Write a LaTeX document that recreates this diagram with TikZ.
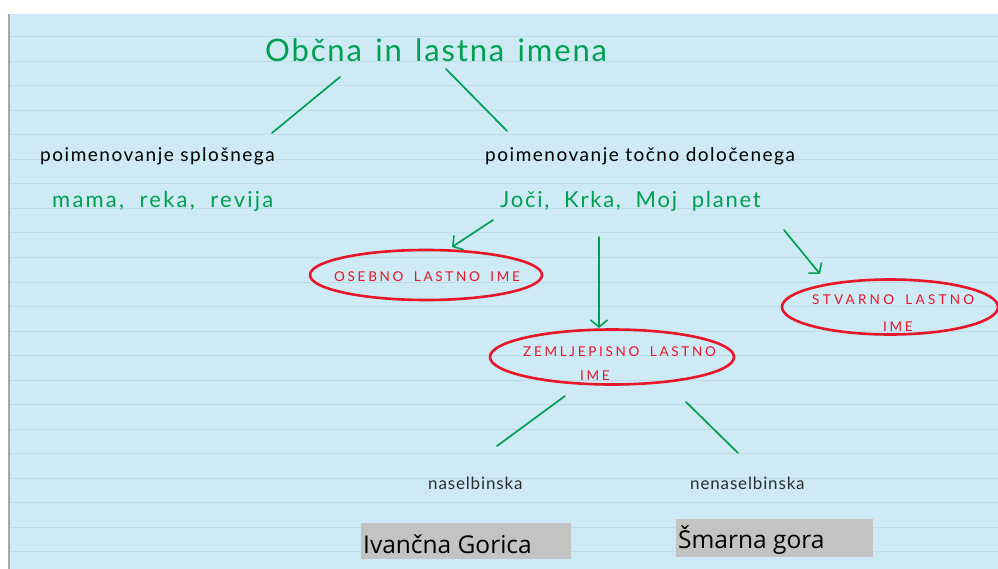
\documentclass[tikz,border=0pt]{standalone}
\usepackage{fontspec}
\setmainfont{Lato}
\newfontfamily\boxfont{Open Sans}
\newfontfamily\handmid[WordSpace=1.35]{Lato}
\newfontfamily\handwide[WordSpace=2.0]{Lato}
\newfontfamily\capsfont[WordSpace=1.7]{Lato}
\usetikzlibrary{arrows.meta,shapes.geometric}
\definecolor{paper}{RGB}{205,234,245}
\definecolor{ruling}{RGB}{188,220,232}
\definecolor{margin}{RGB}{168,168,168}
\definecolor{ink}{RGB}{0,160,80}
\definecolor{redink}{RGB}{232,22,40}
\definecolor{boxgray}{RGB}{195,195,195}
\definecolor{pencil}{RGB}{45,45,50}

\begin{document}
\begin{tikzpicture}[x=1pt,y=-1pt,
  hand/.style={inner sep=0pt,anchor=base west},
  gtext/.style={hand,text=ink},
  btext/.style={hand,text=black},
  caps/.style={inner sep=0pt,anchor=base west,text=redink,
    font=\capsfont\fontsize{13.5}{15}\selectfont\addfontfeatures{LetterSpace=20}},
  oval/.style={draw=redink,line width=2.6pt,ellipse,inner sep=0pt},
  link/.style={draw=ink,line width=1.7pt,line cap=round},
  arrowlink/.style={link,-{Straight Barb[length=7pt,width=17pt,line width=1.6pt]}},
  greybox/.style={fill=boxgray,inner sep=0pt,anchor=north west},
  boxtext/.style={inner sep=0pt,anchor=base west,text=black,
    font=\boxfont\fontsize{24.5}{28}\selectfont}
]
\useasboundingbox (0,0) rectangle (998,569);

% notebook page
\fill[white] (0,0) rectangle (998,569);
\fill[paper] (8,14) rectangle (998,569);
\foreach \k in {0,...,21}
  \draw[ruling,line width=1pt] (10,37+24.5*\k) -- (998,37+24.5*\k);
\fill[margin] (8,14) rectangle (10,569);

% headings
\node[gtext,font=\handmid\fontsize{31}{34}\selectfont\addfontfeatures{LetterSpace=6}] (title) at (265,62) {Občna in lastna imena};
\node[btext,font=\fontsize{19}{22}\selectfont\addfontfeatures{LetterSpace=8}] (common) at (40,162) {poimenovanje splošnega};
\node[gtext,font=\handwide\fontsize{22}{24}\selectfont\addfontfeatures{LetterSpace=10}] (commonex) at (52,208) {mama, reka, revija};
\node[btext,font=\fontsize{19}{22}\selectfont\addfontfeatures{LetterSpace=8}] (proper) at (485,162) {poimenovanje točno določenega};
\node[gtext,font=\handwide\fontsize{22}{24}\selectfont\addfontfeatures{LetterSpace=8}] (properex) at (500,208) {Joči, Krka, Moj planet};

% branches from the title
\coordinate (t1) at (340,77);  \coordinate (c1) at (272,133);
\coordinate (t2) at (446,69);  \coordinate (p1) at (507,131);
\draw[link] (t1) -- (c1);
\draw[link] (t2) -- (p1);

% kinds of proper names
\node[oval,minimum width=232pt,minimum height=50pt] (personal) at (426,275) {};
\node[caps] (personaltxt) at (334,281) {OSEBNO LASTNO IME};

\node[oval,minimum width=244pt,minimum height=55pt] (geo) at (612,357) {};
\node[caps] (geotxt1) at (523,356) {ZEMLJEPISNO LASTNO};
\node[caps] (geotxt2) at (580,380) {IME};

\node[oval,minimum width=216pt,minimum height=55pt] (thing) at (890,307) {};
\node[caps,font=\capsfont\fontsize{13.5}{15}\selectfont\addfontfeatures{LetterSpace=24}] (thingtxt1) at (812,305) {STVARNO LASTNO};
\node[caps] (thingtxt2) at (883,331) {IME};

\coordinate (a1) at (493,220); \coordinate (a1e) at (452,247);
\coordinate (a2) at (599,237); \coordinate (a2e) at (599,328);
\coordinate (a3) at (784,230); \coordinate (a3e) at (820,274);
\draw[arrowlink] (a1) -- (a1e);
\draw[arrowlink] (a2) -- (a2e);
\draw[arrowlink] (a3) -- (a3e);

% settlement / non-settlement names
\coordinate (g1) at (565,396); \coordinate (n1) at (497,446);
\coordinate (g2) at (686,402); \coordinate (n2) at (738,453);
\draw[link] (g1) -- (n1);
\draw[link] (g2) -- (n2);

\node[hand,text=pencil,font=\fontsize{17}{18}\selectfont\addfontfeatures{LetterSpace=5}] (settle) at (428,489) {naselbinska};
\node[hand,text=pencil,font=\fontsize{17}{18}\selectfont\addfontfeatures{LetterSpace=5}] (nonsettle) at (690,489) {nenaselbinska};

\node[greybox,minimum width=210pt,minimum height=36pt] (box1) at (361,523) {};
\node[boxtext] (ex1) at (363,553) {Ivančna Gorica};
\node[greybox,minimum width=197pt,minimum height=38pt] (box2) at (676,519) {};
\node[boxtext] (ex2) at (678,548) {Šmarna gora};
\end{tikzpicture}
\end{document}
